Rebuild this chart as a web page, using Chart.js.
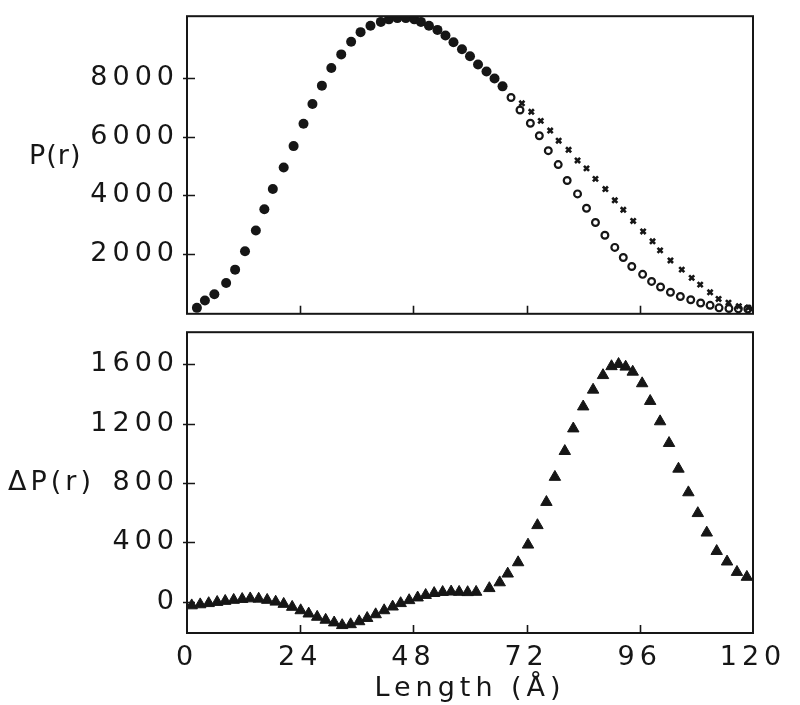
<!DOCTYPE html>
<html>
<head>
<meta charset="utf-8">
<script src="https://cdn.jsdelivr.net/npm/chart.js@4.4.0/dist/chart.umd.min.js"></script>
<style>
  body { margin: 0; background: #fff; }
  #wrap { position: relative; width: 800px; height: 705px; overflow: hidden; }
  canvas { position: absolute; left: 0; }
  #topChart { top: 0; }
  #bottomChart { top: 316px; }
</style>
</head>
<body>
<div id="wrap">
  <canvas id="topChart" width="800" height="330"></canvas>
  <canvas id="bottomChart" width="800" height="389"></canvas>
</div>
<script>
// P(r) - filled circles (shared part of both curves)
const rFilled = [2.1, 3.8, 5.8, 8.3, 10.2, 12.3, 14.6, 16.4, 18.2, 20.5, 22.6, 24.7, 26.6, 28.6, 30.6, 32.7, 34.8, 36.8, 38.9, 41.1,
                 42.8, 44.6, 46.4, 48.2, 49.6, 51.3, 53.1, 54.8, 56.5, 58.3, 60.0, 61.7, 63.5, 65.2, 66.9];
const pFilled = [153, 402, 621, 1003, 1460, 2091, 2800, 3529, 4216, 4957, 5686, 6448, 7124, 7755, 8356, 8824, 9258, 9585, 9804, 9935,
                 10022, 10065, 10065, 10022, 9935, 9804, 9662, 9470, 9240, 9000, 8760, 8480, 8240, 8000, 7730];

// P(r) - open circles
const rOpen = [68.7, 70.6, 72.8, 74.7, 76.6, 78.7, 80.6, 82.8, 84.7, 86.6, 88.6, 90.7, 92.5, 94.3, 96.6, 98.5,
               100.4, 102.5, 104.6, 106.8, 108.9, 110.9, 112.8, 114.9, 116.9, 118.9];
const pOpen = [7350, 6920, 6470, 6040, 5530, 5055, 4510, 4052, 3562, 3072, 2636, 2222, 1874, 1569, 1300, 1057,
               865, 687, 540, 430, 320, 240, 153, 131, 120, 115];

// P(r) - crosses
const rCross = [71.0, 73.0, 75.0, 77.0, 78.8, 80.9, 82.8, 84.7, 86.6, 88.7, 90.7, 92.5, 94.6, 96.7, 98.7,
                100.3, 102.5, 104.9, 107.0, 108.8, 110.9, 112.7, 114.8, 117.0, 119.0];
const pCross = [7150, 6860, 6550, 6220, 5870, 5560, 5196, 4924, 4565, 4216, 3834, 3507, 3126, 2767, 2430,
                2120, 1775, 1460, 1180, 948, 685, 457, 330, 210, 160];

// delta P(r) - triangles
const rDelta = [1.0, 2.8, 4.6, 6.4, 8.1, 9.9, 11.7, 13.4, 15.2, 17.0, 18.8, 20.5, 22.3, 24.1, 25.8, 27.6, 29.4, 31.2, 32.9, 34.7,
                36.5, 38.2, 40.0, 41.8, 43.6, 45.3, 47.1, 48.9, 50.6, 52.4, 54.2, 56.0, 57.7, 59.5, 61.3,
                64.1, 66.3, 68.0, 70.2, 72.3, 74.3, 76.2, 78.0, 80.1, 81.9, 84.0, 86.1, 88.2, 90.0, 91.5, 93.0, 94.5,
                96.5, 98.2, 100.3, 102.2, 104.2, 106.3, 108.3, 110.2, 112.3, 114.5, 116.6, 118.7];
const dP = [-25, -18, -10, -2, 5, 12, 18, 22, 20, 12, 0, -15, -35, -58, -80, -102, -122, -140, -158, -152,
            -132, -110, -85, -58, -33, -10, 10, 28, 45, 58, 65, 68, 66, 64, 66,
            91, 130, 189, 265, 384, 515, 671, 840, 1014, 1166, 1314, 1427, 1525, 1585, 1600, 1582, 1548,
            1470, 1351, 1214, 1068, 895, 736, 596, 465, 341, 270, 200, 167];

// axis ticks
const xTicks = [0, 24, 48, 72, 96, 120];
const yTicksTop = [2000, 4000, 6000, 8000];
const yTicksBottom = [0, 400, 800, 1200, 1600];

const ink = '#161616';
const fontFamily = "'DejaVu Sans', sans-serif";
const labelFont = { family: fontFamily, size: 27, weight: 'normal' };
const spacing = '5px';

function toPoints(xs, ys) {
    return xs.map((x, i) => ({ x: x, y: ys[i] }));
}

// frame, inward tick marks and the horizontal side label
function framePlugin(yTicks, label, labelValue, labelX, labelSpacing) {
    return {
        id: 'frame',
        beforeDraw(chart) {
            chart.ctx.letterSpacing = spacing;
        },
        afterDraw(chart) {
            const ctx = chart.ctx;
            const a = chart.chartArea;
            const xs = chart.scales.x, ys = chart.scales.y;
            ctx.save();
            ctx.strokeStyle = ink;
            ctx.lineWidth = 2;
            ctx.strokeRect(a.left, a.top, a.right - a.left, a.bottom - a.top);
            ctx.lineWidth = 1.6;
            ctx.beginPath();
            xTicks.slice(1, -1).forEach(v => {
                const px = Math.round(xs.getPixelForValue(v)) + 0.5;
                ctx.moveTo(px, a.bottom);
                ctx.lineTo(px, a.bottom - 8);
            });
            yTicks.forEach(v => {
                const py = Math.round(ys.getPixelForValue(v)) + 0.5;
                ctx.moveTo(a.left - 4, py);
                ctx.lineTo(a.left + 8, py);
            });
            ctx.stroke();
            ctx.fillStyle = ink;
            ctx.font = labelFont.size + 'px ' + fontFamily;
            ctx.letterSpacing = labelSpacing;
            ctx.textAlign = 'left';
            ctx.textBaseline = 'middle';
            ctx.fillText(label, labelX, ys.getPixelForValue(labelValue));
            ctx.restore();
            ctx.letterSpacing = '0px';
        }
    };
}

function yAxis(min, max, ticks) {
    return {
        type: 'linear',
        min: min,
        max: max,
        afterFit: s => { s.width = 187; },
        afterBuildTicks: s => { s.ticks = ticks.map(v => ({ value: v })); },
        grid: { display: false },
        border: { display: false },
        ticks: { color: ink, font: labelFont, padding: 0, callback: v => String(v) }
    };
}

// top panel: P(r)
new Chart(document.getElementById('topChart'), {
    type: 'scatter',
    data: {
        datasets: [
            {
                label: 'P(r) crosses',
                data: toPoints(rCross, pCross),
                pointStyle: 'crossRot',
                pointRadius: 3.6,
                borderWidth: 2.6,
                borderColor: ink
            },
            {
                label: 'P(r) open',
                data: toPoints(rOpen, pOpen),
                pointStyle: 'circle',
                pointRadius: 3.4,
                borderWidth: 2.2,
                borderColor: ink,
                backgroundColor: '#fff'
            },
            {
                label: 'P(r)',
                data: toPoints(rFilled, pFilled),
                pointStyle: 'circle',
                pointRadius: 5,
                borderWidth: 0,
                backgroundColor: ink
            }
        ]
    },
    options: {
        responsive: false,
        animation: false,
        devicePixelRatio: 1,
        layout: { padding: { left: 0, right: 47, top: 13, bottom: 8 } },
        scales: {
            x: { type: 'linear', min: 0, max: 120, display: false },
            y: yAxis(-50, 10130, yTicksTop)
        },
        plugins: { legend: { display: false }, tooltip: { enabled: false } }
    },
    plugins: [framePlugin(yTicksTop, 'P(r)', 5300, 29, '1px')]
});

// bottom panel: delta P(r)
new Chart(document.getElementById('bottomChart'), {
    type: 'scatter',
    data: {
        datasets: [
            {
                label: 'ΔP(r)',
                data: toPoints(rDelta, dP),
                pointStyle: 'triangle',
                pointRadius: 6.6,
                borderWidth: 1,
                borderColor: ink,
                backgroundColor: ink
            }
        ]
    },
    options: {
        responsive: false,
        animation: false,
        devicePixelRatio: 1,
        layout: { padding: { left: 0, right: 47, top: 6, bottom: 0 } },
        scales: {
            x: {
                type: 'linear',
                min: 0,
                max: 120,
                afterFit: s => { s.height = 72; },
                afterBuildTicks: s => { s.ticks = xTicks.map(v => ({ value: v })); },
                grid: { display: false },
                border: { display: false },
                ticks: { color: ink, font: labelFont, padding: 1, maxRotation: 0, callback: v => String(v) },
                title: {
                    display: true,
                    text: 'Length (Å)',
                    color: ink,
                    font: labelFont,
                    padding: { top: 0, bottom: 0 }
                }
            },
            y: yAxis(-210, 1815, yTicksBottom)
        },
        plugins: { legend: { display: false }, tooltip: { enabled: false } }
    },
    plugins: [framePlugin(yTicksBottom, 'ΔP(r)', 800, 8, '4px')]
});
</script>
</body>
</html>
